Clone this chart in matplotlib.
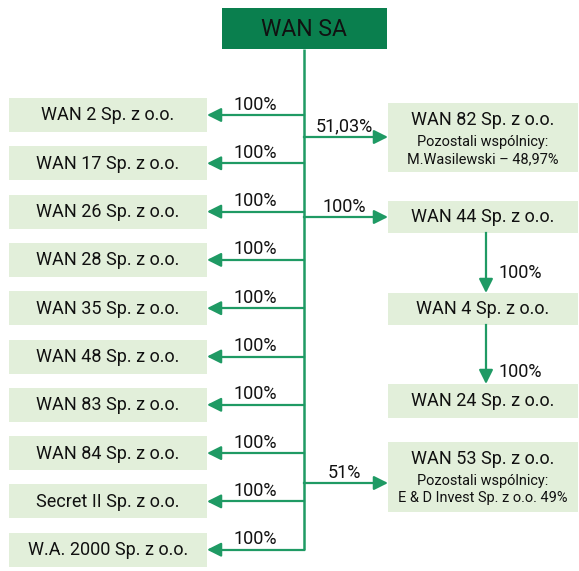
import matplotlib
matplotlib.use("Agg")
import matplotlib.pyplot as plt
from matplotlib.patches import Rectangle, FancyArrowPatch

plt.rcParams['font.family'] = ['Roboto', 'DejaVu Sans']

# --- data ---
parent = "WAN SA"

left_names = ["WAN 2 Sp. z o.o.", "WAN 17 Sp. z o.o.", "WAN 26 Sp. z o.o.",
              "WAN 28 Sp. z o.o.", "WAN 35 Sp. z o.o.", "WAN 48 Sp. z o.o.",
              "WAN 83 Sp. z o.o.", "WAN 84 Sp. z o.o.", "Secret II Sp. z o.o.",
              "W.A. 2000 Sp. z o.o."]
left_shares = ["100%"] * 10

right_names = ["WAN 82 Sp. z o.o.", "WAN 44 Sp. z o.o.", "WAN 53 Sp. z o.o."]
right_shares = ["51,03%", "100%", "51%"]
right_notes = [["Pozostali wspólnicy:", "M.Wasilewski – 48,97%"],
               [],
               ["Pozostali wspólnicy:", "E & D Invest Sp. z o.o. 49%"]]

chain_names = ["WAN 44 Sp. z o.o.", "WAN 4 Sp. z o.o.", "WAN 24 Sp. z o.o."]
chain_shares = ["100%", "100%"]

# --- layout (pixels) ---
W, H = 579, 571
DARK = "#0a7f4e"
LINE = "#1f9a64"
FILL = "#e2efda"
TXT = "#111111"
PX = 72 / 100


def fs(px):
    return px * PX


fig = plt.figure(figsize=(W / 100, H / 100), dpi=100)
ax = fig.add_axes([0, 0, 1, 1])
ax.set_xlim(0, W)
ax.set_ylim(H, 0)
ax.axis('off')


def box(x0, y0, x1, y1, color):
    ax.add_patch(Rectangle((x0, y0), x1 - x0, y1 - y0, facecolor=color,
                           edgecolor='none', zorder=1))


def arrow(p0, p1):
    ax.add_patch(FancyArrowPatch(p0, p1, arrowstyle='-|>,head_length=0.7,head_width=0.35',
                                 mutation_scale=12, color=LINE, lw=1.6,
                                 shrinkA=0, shrinkB=0, zorder=3))


# parent
box(222, 8, 387, 49, DARK)
ax.text(304, 29, parent, ha='center', va='center', fontsize=fs(23), color=TXT)

trunk_x = 304
ax.plot([trunk_x, trunk_x], [49, 550], color=LINE, lw=1.8, zorder=2,
        solid_capstyle='butt')

# left column
left_top, left_step, left_h = 98, 48.3, 34
for i, (name, share) in enumerate(zip(left_names, left_shares)):
    y0 = left_top + i * left_step
    yc = y0 + left_h / 2
    box(9, y0, 207, y0 + left_h, FILL)
    ax.text(108, yc + 0.5, name, ha='center', va='center', fontsize=fs(18), color=TXT)
    ax.plot([trunk_x, 212], [yc, yc], color=LINE, lw=1.6, zorder=2)
    arrow((220, yc), (207, yc))
    ax.text(255, yc - 1.5, share, ha='center', va='bottom', fontsize=fs(18), color=TXT)

# right column
right_boxes = [(103, 172), (201, 233), (442, 512)]
right_arrow_y = [137, 217, 483]
for name, share, notes, (y0, y1), ay in zip(right_names, right_shares, right_notes,
                                            right_boxes, right_arrow_y):
    box(388, y0, 578, y1, FILL)
    if notes:
        ax.text(483, y0 + 17, name, ha='center', va='center', fontsize=fs(18), color=TXT)
        for k, note in enumerate(notes):
            ax.text(483, y0 + 39 + k * 17, note, ha='center', va='center',
                    fontsize=fs(14.5), color=TXT)
    else:
        ax.text(483, (y0 + y1) / 2 + 0.5, name, ha='center', va='center',
                fontsize=fs(18), color=TXT)
    ax.plot([trunk_x, 380], [ay, ay], color=LINE, lw=1.6, zorder=2)
    arrow((375, ay), (388, ay))
    ax.text(344, ay - 1.5, share, ha='center', va='bottom', fontsize=fs(18), color=TXT)

# chain under WAN 44
chain_boxes = [(201, 233), (293, 325), (384, 418)]
chain_label_y = [273, 372]
for name, (y0, y1) in zip(chain_names[1:], chain_boxes[1:]):
    box(388, y0, 578, y1, FILL)
    ax.text(483, (y0 + y1) / 2 + 0.5, name, ha='center', va='center',
            fontsize=fs(18), color=TXT)
for i, share in enumerate(chain_shares):
    ytop = chain_boxes[i][1]
    ybot = chain_boxes[i + 1][0]
    ax.plot([486, 486], [ytop, ybot - 6], color=LINE, lw=1.6, zorder=2)
    arrow((486, ybot - 12), (486, ybot))
    ax.text(499, chain_label_y[i], share, ha='left', va='center',
            fontsize=fs(18), color=TXT)

fig.savefig("out.png", dpi=100, facecolor='white')
